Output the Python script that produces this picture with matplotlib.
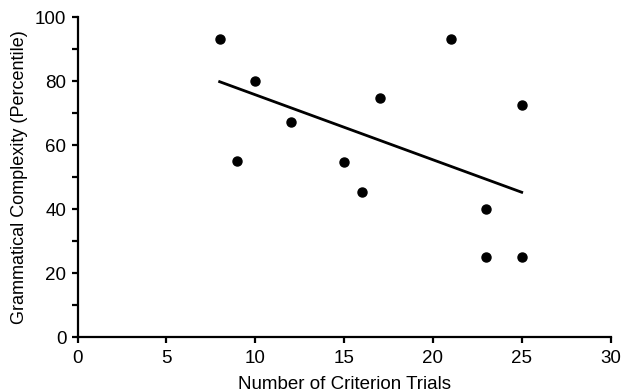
import matplotlib
matplotlib.use("Agg")
import matplotlib.pyplot as plt
from matplotlib.ticker import MultipleLocator

plt.rcParams['font.family'] = ['Liberation Sans', 'DejaVu Sans']

# data
trials = [8, 9, 10, 12, 15, 16, 17, 21, 23, 23, 25, 25]
complexity = [93.3, 55, 80, 67.3, 54.7, 45.3, 74.7, 93.3, 40, 25, 25, 72.7]
fit_x = [8, 25]
fit_y = [79.9, 45.3]

fig = plt.figure(figsize=(6.23, 3.92), dpi=100)
ax = fig.add_axes([0.1244, 0.1403, 0.8556, 0.8151])

ax.plot(trials, complexity, 'o', color='black', markersize=6.5, clip_on=False)
ax.plot(fit_x, fit_y, color='black', linewidth=2)

ax.set_xlim(0, 30)
ax.set_ylim(0, 100)
ax.xaxis.set_major_locator(MultipleLocator(5))
ax.yaxis.set_major_locator(MultipleLocator(20))
ax.yaxis.set_minor_locator(MultipleLocator(10))

for s in ['top', 'right']:
    ax.spines[s].set_visible(False)
for s in ['left', 'bottom']:
    ax.spines[s].set_linewidth(1.6)

ax.tick_params(axis='both', which='both', direction='out', length=4, width=1.6,
               labelsize=13.5, color='black')
ax.tick_params(axis='x', pad=5)
ax.tick_params(axis='y', pad=4)

ax.set_xlabel('Number of Criterion Trials', fontsize=13.5, labelpad=7)
ax.set_ylabel('Grammatical Complexity (Percentile)', fontsize=13, labelpad=5)

fig.savefig('out.png', dpi=100)
